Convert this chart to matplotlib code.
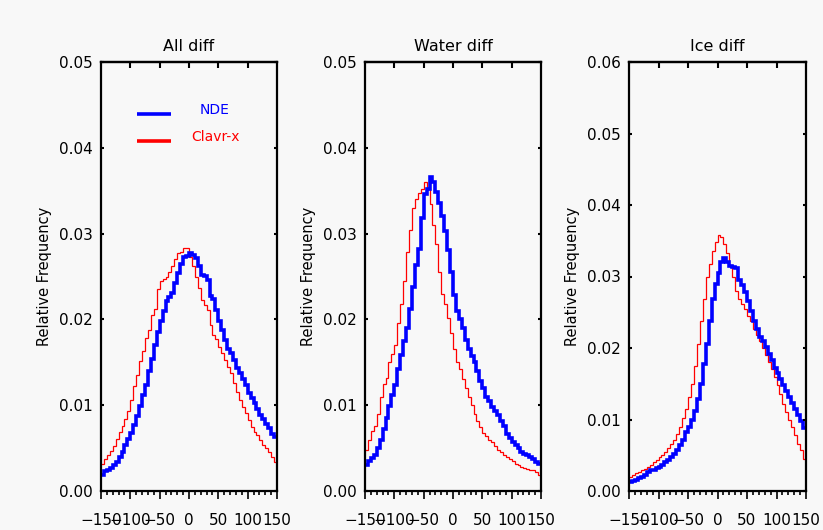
import numpy as np
import matplotlib
matplotlib.use("Agg")
import matplotlib.pyplot as plt
from matplotlib.ticker import MultipleLocator, FormatStrFormatter

# Histogram bins (5-unit wide) shared by all panels
bin_edges = np.arange(-150, 155, 5)

titles = ["All diff", "Water diff", "Ice diff"]
y_tops = [0.05, 0.05, 0.06]

all_nde = [0.0019, 0.0023, 0.0025, 0.0027, 0.0030, 0.0034, 0.0040, 0.0046, 0.0054, 0.0061,
           0.0068, 0.0077, 0.0087, 0.0099, 0.0112, 0.0124, 0.0140, 0.0154, 0.0170, 0.0185,
           0.0198, 0.0210, 0.0222, 0.0226, 0.0231, 0.0242, 0.0254, 0.0265, 0.0273, 0.0274,
           0.0277, 0.0275, 0.0272, 0.0262, 0.0252, 0.0251, 0.0246, 0.0227, 0.0224, 0.0211,
           0.0198, 0.0188, 0.0176, 0.0166, 0.0161, 0.0153, 0.0143, 0.0137, 0.0130, 0.0123,
           0.0114, 0.0108, 0.0102, 0.0095, 0.0089, 0.0084, 0.0078, 0.0073, 0.0067, 0.0063]
all_clavrx = [0.0032, 0.0037, 0.0042, 0.0047, 0.0052, 0.0061, 0.0069, 0.0076, 0.0084, 0.0093,
              0.0106, 0.0122, 0.0135, 0.0151, 0.0163, 0.0178, 0.0188, 0.0205, 0.0212, 0.0235,
              0.0245, 0.0247, 0.0249, 0.0255, 0.0262, 0.0270, 0.0277, 0.0278, 0.0283, 0.0283,
              0.0273, 0.0262, 0.0250, 0.0237, 0.0223, 0.0217, 0.0211, 0.0194, 0.0182, 0.0177,
              0.0168, 0.0161, 0.0153, 0.0145, 0.0137, 0.0126, 0.0115, 0.0106, 0.0098, 0.0091,
              0.0083, 0.0075, 0.0069, 0.0065, 0.0060, 0.0054, 0.0050, 0.0046, 0.0040, 0.0034]

water_nde = [0.0030, 0.0035, 0.0038, 0.0042, 0.0050, 0.0060, 0.0072, 0.0085, 0.0099, 0.0112,
             0.0124, 0.0142, 0.0158, 0.0175, 0.0190, 0.0212, 0.0238, 0.0263, 0.0282, 0.0318,
             0.0346, 0.0352, 0.0366, 0.0360, 0.0348, 0.0336, 0.0320, 0.0303, 0.0281, 0.0255,
             0.0228, 0.0210, 0.0200, 0.0190, 0.0176, 0.0165, 0.0157, 0.0150, 0.0140, 0.0128,
             0.0120, 0.0110, 0.0105, 0.0098, 0.0093, 0.0089, 0.0082, 0.0076, 0.0067, 0.0062,
             0.0057, 0.0054, 0.0050, 0.0046, 0.0043, 0.0042, 0.0040, 0.0037, 0.0034, 0.0031]
water_clavrx = [0.0048, 0.0060, 0.0070, 0.0076, 0.0090, 0.0110, 0.0125, 0.0132, 0.0150, 0.0160,
                0.0170, 0.0196, 0.0218, 0.0245, 0.0278, 0.0304, 0.0330, 0.0340, 0.0347, 0.0352,
                0.0360, 0.0352, 0.0335, 0.0310, 0.0288, 0.0255, 0.0230, 0.0218, 0.0202, 0.0184,
                0.0165, 0.0150, 0.0142, 0.0130, 0.0120, 0.0110, 0.0100, 0.0090, 0.0082, 0.0075,
                0.0068, 0.0064, 0.0060, 0.0057, 0.0052, 0.0048, 0.0045, 0.0042, 0.0040, 0.0037,
                0.0035, 0.0032, 0.0030, 0.0028, 0.0027, 0.0026, 0.0025, 0.0024, 0.0022, 0.0019]

ice_nde = [0.0012, 0.0014, 0.0016, 0.0018, 0.0020, 0.0023, 0.0026, 0.0029, 0.0030, 0.0032,
           0.0034, 0.0037, 0.0040, 0.0044, 0.0048, 0.0052, 0.0058, 0.0064, 0.0072, 0.0082,
           0.0090, 0.0100, 0.0112, 0.0128, 0.0150, 0.0178, 0.0205, 0.0238, 0.0268, 0.0290,
           0.0305, 0.0320, 0.0326, 0.0320, 0.0315, 0.0313, 0.0312, 0.0295, 0.0288, 0.0278,
           0.0266, 0.0252, 0.0238, 0.0226, 0.0216, 0.0210, 0.0202, 0.0192, 0.0183, 0.0172,
           0.0165, 0.0156, 0.0148, 0.0140, 0.0131, 0.0123, 0.0115, 0.0106, 0.0098, 0.0088]
ice_clavrx = [0.0020, 0.0023, 0.0025, 0.0027, 0.0029, 0.0031, 0.0034, 0.0036, 0.0040, 0.0044,
              0.0047, 0.0051, 0.0055, 0.0060, 0.0066, 0.0072, 0.0080, 0.0090, 0.0102, 0.0115,
              0.0132, 0.0150, 0.0175, 0.0205, 0.0238, 0.0268, 0.0300, 0.0318, 0.0335, 0.0348,
              0.0358, 0.0355, 0.0345, 0.0333, 0.0316, 0.0300, 0.0280, 0.0268, 0.0262, 0.0254,
              0.0245, 0.0238, 0.0226, 0.0218, 0.0210, 0.0200, 0.0190, 0.0180, 0.0170, 0.0160,
              0.0148, 0.0135, 0.0122, 0.0110, 0.0100, 0.0090, 0.0078, 0.0066, 0.0058, 0.0045]

nde_series = [all_nde, water_nde, ice_nde]
clavrx_series = [all_clavrx, water_clavrx, ice_clavrx]

x_major = [-150, -100, -50, 0, 50, 100, 150]
x_top = [-100, -50, 0, 50, 100]
series_names = ["NDE", "Clavr-x"]

BG = "#f8f8f8"
BLUE = "#0000ff"
RED = "#ff0000"

plt.rcParams["font.family"] = ["DejaVu Sans"]

fig = plt.figure(figsize=(8.23, 5.30), dpi=100, facecolor=BG)

W, H = 823.0, 530.0
panel_px = [(101, 277), (365, 541), (629, 806)]
top_px, bottom_px = 62, 491

for k in range(3):
    l, r = panel_px[k]
    ax = fig.add_axes([l / W, (H - bottom_px) / H, (r - l) / W, (bottom_px - top_px) / H])
    ax.set_facecolor(BG)

    ax.stairs(clavrx_series[k], bin_edges, baseline=None, color=RED, lw=0.9)
    ax.stairs(nde_series[k], bin_edges, baseline=None, color=BLUE, lw=2.6)

    ax.set_xlim(-150, 150)
    ax.set_ylim(0, y_tops[k])

    for s in ax.spines.values():
        s.set_linewidth(1.6)
        s.set_color("black")

    ax.xaxis.set_ticks(x_major)
    ax.xaxis.set_minor_locator(MultipleLocator(10))
    ax.tick_params(axis="x", which="major", direction="out", length=5.5, width=1.2,
                   top=False, bottom=True, labelsize=11, pad=10)
    ax.tick_params(axis="x", which="minor", direction="out", length=2.8, width=1.2,
                   top=False, bottom=True)

    ax.yaxis.set_major_locator(MultipleLocator(0.01))
    ax.yaxis.set_major_formatter(FormatStrFormatter("%.2f"))
    ax.tick_params(axis="y", which="major", direction="in", length=2.5, width=1.5,
                   left=True, right=True, labelsize=11, pad=6)

    sec = ax.secondary_xaxis("top")
    sec.set_xticks(x_top)
    sec.tick_params(direction="in", length=4.5, width=1.5, labeltop=False)
    sec.xaxis.set_minor_locator(plt.NullLocator())
    sec.spines["top"].set_linewidth(1.6)

    ax.set_title(titles[k], fontsize=11.5, pad=8)
    ax.set_ylabel("Relative Frequency", fontsize=10.5, labelpad=5)

    if k == 0:
        ax.plot([0.203, 0.398], [0.879, 0.879], transform=ax.transAxes, color=BLUE, lw=2.6,
                solid_capstyle="butt")
        ax.plot([0.203, 0.398], [0.816, 0.816], transform=ax.transAxes, color=RED, lw=2.6,
                solid_capstyle="butt")
        ax.text(0.648, 0.888, series_names[0], transform=ax.transAxes, color=BLUE,
                fontsize=10, ha="center", va="center")
        ax.text(0.652, 0.825, series_names[1], transform=ax.transAxes, color=RED,
                fontsize=10, ha="center", va="center")

fig.savefig("out.png", dpi=100, facecolor=BG)
